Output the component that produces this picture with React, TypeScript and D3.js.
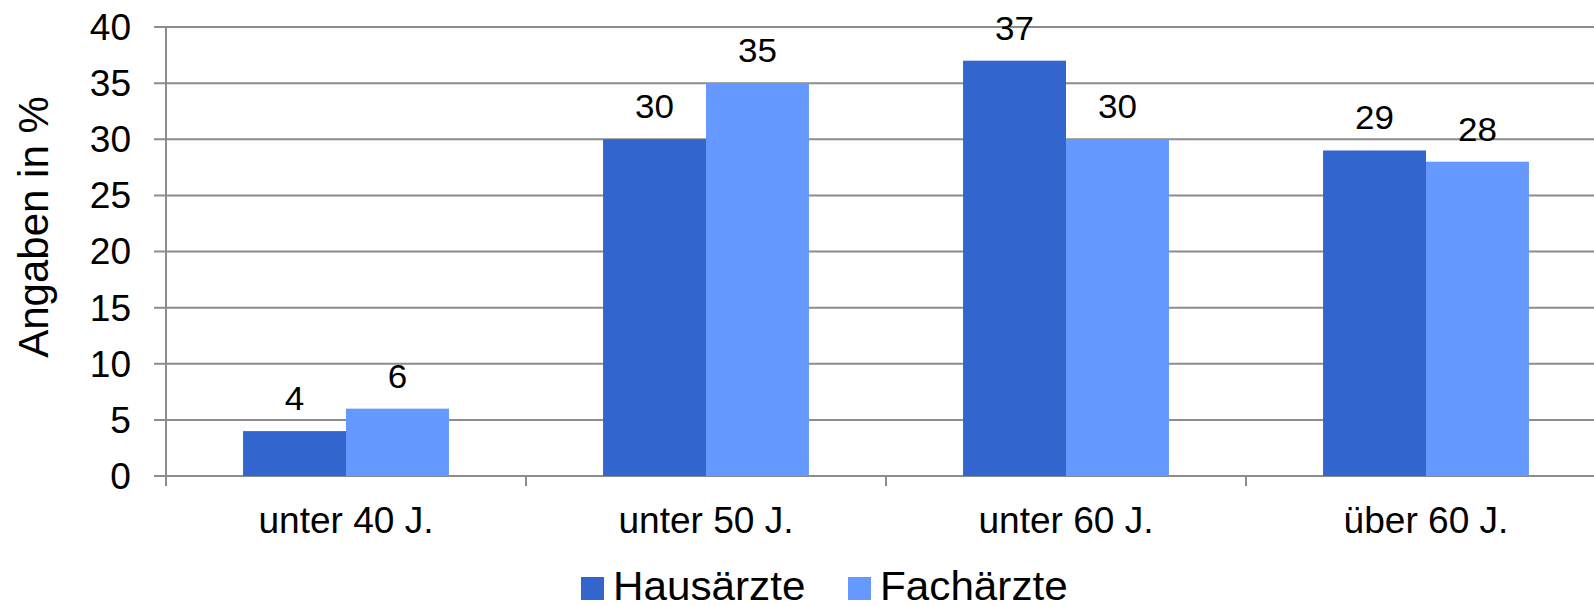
import React, { useEffect, useRef } from 'react';
import * as d3 from 'd3';

const categories = ['unter 40 J.', 'unter 50 J.', 'unter 60 J.', 'über 60 J.'];
const seriesNames = ['Hausärzte', 'Fachärzte'];
const hausaerzte = [4, 30, 37, 29];
const fachaerzte = [6, 35, 30, 28];
const yTicks = [0, 5, 10, 15, 20, 25, 30, 35, 40];
const colors = ['#3366CC', '#6699FF'];

const FONT = '"Liberation Sans", Arial, sans-serif';
const STRETCH = 1.03; // text in the picture is a touch wider than normal

const Chart: React.FC = () => {
  const svgRef = useRef<SVGSVGElement>(null);

  useEffect(() => {
    if (!svgRef.current) return;
    const svg = d3.select(svgRef.current);
    svg.selectAll('*').remove();

    const width = 1594;
    const height = 606;
    const left = 166;
    const right = 1606;
    const top = 27;
    const bottom = 476;

    const y = d3.scaleLinear().domain([0, 40]).range([bottom, top]);
    const x0 = d3.scaleBand<string>().domain(categories).range([left, right]);
    const bw = x0.bandwidth();
    const x1 = d3.scaleBand<string>().domain(seriesNames).range([bw * 0.214, bw * 0.786]);

    svg.attr('width', width).attr('height', height);

    // grid lines + tick labels
    yTicks.forEach((t) => {
      svg.append('line')
        .attr('x1', left - 12).attr('x2', right)
        .attr('y1', y(t)).attr('y2', y(t))
        .attr('stroke', '#8c8c8c').attr('stroke-width', 2);
      svg.append('text')
        .attr('transform', `translate(131, ${y(t)}) scale(${STRETCH}, 1)`)
        .attr('dy', '0.36em')
        .attr('text-anchor', 'end')
        .attr('font-family', FONT).attr('font-size', 36)
        .attr('fill', '#000')
        .text(t);
    });

    // y axis
    svg.append('line')
      .attr('x1', left).attr('x2', left)
      .attr('y1', top).attr('y2', bottom + 10)
      .attr('stroke', '#8c8c8c').attr('stroke-width', 2);

    // category ticks
    categories.forEach((c, i) => {
      if (i === 0) return;
      const xx = x0(c)!;
      svg.append('line')
        .attr('x1', xx).attr('x2', xx)
        .attr('y1', bottom).attr('y2', bottom + 10)
        .attr('stroke', '#8c8c8c').attr('stroke-width', 2);
    });

    const data = [hausaerzte, fachaerzte];

    // bars + value labels
    data.forEach((vals, s) => {
      vals.forEach((v, i) => {
        const bx = x0(categories[i])! + x1(seriesNames[s])!;
        svg.append('rect')
          .attr('x', bx)
          .attr('y', y(v))
          .attr('width', x1.bandwidth())
          .attr('height', bottom - y(v))
          .attr('fill', colors[s]);
        svg.append('text')
          .attr('transform', `translate(${bx + x1.bandwidth() / 2}, ${y(v) - 21}) scale(${STRETCH}, 1)`)
          .attr('text-anchor', 'middle')
          .attr('font-family', FONT).attr('font-size', 34)
          .attr('fill', '#000')
          .text(v);
      });
    });

    // category labels
    categories.forEach((c) => {
      svg.append('text')
        .attr('transform', `translate(${x0(c)! + bw / 2}, 533) scale(${STRETCH}, 1)`)
        .attr('text-anchor', 'middle')
        .attr('font-family', FONT).attr('font-size', 36)
        .attr('fill', '#000')
        .text(c);
    });

    // y axis title
    svg.append('text')
      .attr('transform', `translate(48, 227) scale(${STRETCH}, 1) rotate(-90)`)
      .attr('text-anchor', 'middle')
      .attr('font-family', FONT).attr('font-size', 42)
      .attr('fill', '#000')
      .text('Angaben in %');

    // legend
    const legendX = [581, 848];
    seriesNames.forEach((n, s) => {
      svg.append('rect')
        .attr('x', legendX[s]).attr('y', 577)
        .attr('width', 23).attr('height', 23)
        .attr('fill', colors[s]);
      svg.append('text')
        .attr('transform', `translate(${legendX[s] + 32}, 600) scale(${STRETCH}, 1)`)
        .attr('font-family', FONT).attr('font-size', 41)
        .attr('fill', '#000')
        .text(n);
    });
  }, []);

  return <svg ref={svgRef} style={{ position: 'fixed', left: 0, top: 0, background: '#fff' }} />;
};

export default function App() {
  return <Chart />;
}
